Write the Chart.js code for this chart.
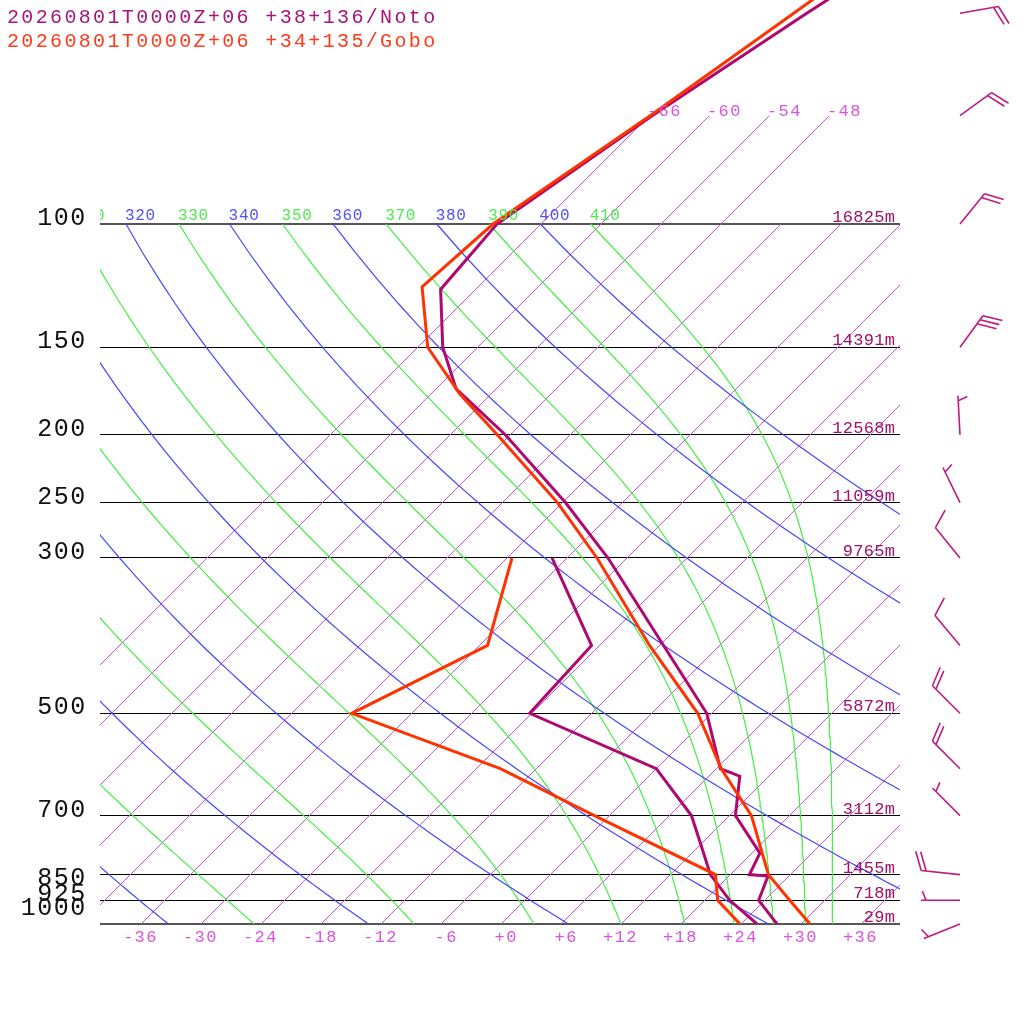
<!DOCTYPE html>
<html>
<head>
<meta charset="utf-8">
<script src="https://cdn.jsdelivr.net/npm/chart.js@4/dist/chart.umd.min.js"></script>
<style>html,body{margin:0;padding:0;background:#fff;}canvas{display:block;}</style>
</head>
<body>
<canvas id="c" width="1024" height="1024"></canvas>
<script>
// ---------------- data ----------------
const titleNoto = '20260801T0000Z+06 +38+136/Noto';
const titleGobo = '20260801T0000Z+06 +34+135/Gobo';

const notoTempP = [1000, 925, 854, 850, 792, 700, 615, 600, 500, 400, 300, 250, 200, 172, 150, 124, 100, 70, 50, 40];
const notoTemp  = [27.7, 23.5, 22.0, 20.0, 18.9, 12.7, 9.2, 6.5, -0.4, -11.5, -25.8, -35.6, -48.4, -57.9, -63.4, -69.4, -70.3, -65.6, -60.4, -56.7];
const notoDewP  = [1000, 925, 850, 775, 700, 600, 500, 400, 300];
const notoDew   = [25.7, 20.6, 16.1, 12.4, 8.3, 0.1, -18.1, -18.7, -31.4];

const goboTempP = [1000, 925, 850, 700, 600, 500, 400, 300, 250, 200, 175, 150, 123, 100, 70, 50, 40];
const goboTemp  = [31.0, 26.6, 21.9, 14.3, 6.6, -1.3, -12.9, -26.9, -36.4, -49.2, -57.0, -64.9, -71.5, -70.7, -65.8, -61.7, -59.1];
const goboDewP  = [1000, 925, 850, 700, 600, 500, 400, 300];
const goboDew   = [24.0, 19.4, 16.6, -1.4, -15.5, -35.9, -29.1, -35.4];

const pressureTicks = [100, 150, 200, 250, 300, 500, 700, 850, 925, 1000];
const heightLabels  = ['16825m', '14391m', '12568m', '11059m', '9765m', '5872m', '3112m', '1455m', '718m', '29m'];

const isoTemps = [-66, -60, -54, -48, -42, -36, -30, -24, -18, -12, -6, 0, 6, 12, 18, 24, 30, 36];
const isoTopP  = [70, 70, 70, 70, 100, 100, 100, 100, 100, 100, 100, 100, 100, 100, 100, 100, 100, 100];
const isoTopLabels = [-66, -60, -54, -48];
const tempTickLabels = [-36, -30, -24, -18, -12, -6, 0, 6, 12, 18, 24, 30, 36];

const dryThetas   = [240, 260, 280, 300, 320, 340, 360, 380, 400];
const moistThetas = [250, 270, 290, 310, 330, 350, 370, 390, 410];

const windP   = [50, 70, 100, 150, 200, 250, 300, 400, 500, 600, 700, 850, 925, 1000];
const windDir = [80, 54, 39, 36, 357, 334, 321, 320, 315, 315, 315, 276, 270, 248];
const windSpd = [20, 20, 20, 30, 5, 5, 10, 10, 20, 20, 5, 20, 5, 5];

// ---------------- styles ----------------
const COL_NOTO = '#b0086e', COL_GOBO = '#ff3300';
const COL_ISOTHERM = '#cc55e0', COL_DRY = '#4646ff', COL_MOIST = '#44ee44';
const FONT = '"Liberation Mono", "DejaVu Sans Mono", monospace';
const SKEW = 70;
const P_TOP = 47.86, P_BOT = 1000, P_ADIABAT_TOP = 100;

// ---------------- helpers ----------------
const sx = (T, p) => T + SKEW * Math.log10(1000 / p);
const pts = (P, T) => P.map((p, i) => ({ x: sx(T[i], p), y: p }));
function dryT(theta, p) { return theta * Math.pow(p / 1000, 0.2857) - 273.15; }
function thetaESat(Tc, p) {
  const es = 6.112 * Math.exp(17.67 * Tc / (Tc + 243.5));
  if (es > 0.5 * p) return 1e9;
  const r = 622 * es / (p - es);
  const TK = Tc + 273.15;
  return TK * Math.pow(1000 / p, 0.2854 * (1 - 0.00028 * r)) *
         Math.exp((3.376 / TK - 0.00254) * r * (1 + 0.00081 * r));
}
function moistT(thE, p) {
  let lo = -170, hi = 60;
  for (let k = 0; k < 60; k++) { const m = (lo + hi) / 2; if (thetaESat(m, p) > thE) hi = m; else lo = m; }
  return (lo + hi) / 2;
}
const sampleP = [];
for (let p = P_BOT; p >= P_ADIABAT_TOP; p -= 10) sampleP.push(p);

function lineDs(data, color, width, order) {
  return { data, showLine: true, borderColor: color, backgroundColor: color, borderWidth: width,
           pointRadius: 0, pointHoverRadius: 0, pointBorderWidth: 0, fill: false, tension: 0, order,
           borderJoinStyle: 'miter', borderCapStyle: 'butt' };
}

const datasets = [];
datasets.push(lineDs(pts(goboTempP, goboTemp), COL_GOBO, 3, 0));
datasets.push(lineDs(pts(goboDewP, goboDew), COL_GOBO, 3, 0));
datasets.push(lineDs(pts(notoTempP, notoTemp), COL_NOTO, 3, 1));
datasets.push(lineDs(pts(notoDewP, notoDew), COL_NOTO, 3, 1));
dryThetas.forEach(th => datasets.push(lineDs(
  sampleP.map(p => ({ x: sx(dryT(th, p), p), y: p })), COL_DRY, 1.2, 5)));
moistThetas.forEach(th => datasets.push(lineDs(
  sampleP.map(p => ({ x: sx(moistT(th, p), p), y: p })), COL_MOIST, 1.2, 5)));

function mono(ctx, text, x, base, adv) {
  for (let i = 0; i < text.length; i++) ctx.fillText(text[i], x + i * adv, base);
}
function monoRight(ctx, text, right, base, adv, fs) {
  const start = right - (text.length - 1) * adv - 0.55 * fs;
  mono(ctx, text, start, base, adv);
}
function drawBarb(ctx, x0, y0, dirDeg, spd) {
  const a = dirDeg * Math.PI / 180;
  const dx = Math.sin(a), dy = -Math.cos(a);
  const L = 39, sp = 5, full = 20, half = 10;
  const tx = x0 + dx * L, ty = y0 + dy * L;
  const fa = Math.atan2(dy, dx) + 68 * Math.PI / 180;
  const fx = Math.cos(fa), fy = Math.sin(fa);
  ctx.beginPath();
  ctx.moveTo(x0, y0); ctx.lineTo(tx, ty);
  const s = Math.round(spd / 5) * 5;
  const nFull = Math.floor(s / 10), nHalf = (s % 10) >= 5 ? 1 : 0;
  let pos = (nFull === 0 && nHalf) ? sp : 0;
  for (let i = 0; i < nFull; i++) {
    const px = tx - dx * pos, py = ty - dy * pos;
    ctx.moveTo(px, py); ctx.lineTo(px + fx * full, py + fy * full);
    pos += sp;
  }
  if (nHalf) {
    const px = tx - dx * pos, py = ty - dy * pos;
    ctx.moveTo(px, py); ctx.lineTo(px + fx * half, py + fy * half);
  }
  ctx.stroke();
}

const decor = {
  id: 'decor',
  beforeDraw(chart) {
    const c = chart.ctx; c.save(); c.fillStyle = '#fff'; c.fillRect(0, 0, chart.width, chart.height); c.restore();
  },
  beforeDatasetsDraw(chart) {
    // isotherms: crisp 1-px pixel lines, positioned through the chart scales
    const ctx = chart.ctx, area = chart.chartArea, xs = chart.scales.x, ys = chart.scales.y;
    ctx.save();
    ctx.fillStyle = COL_ISOTHERM;
    isoTemps.forEach((T, i) => {
      const x0 = xs.getPixelForValue(sx(T, P_BOT)), y0 = ys.getPixelForValue(P_BOT);
      const x1 = xs.getPixelForValue(sx(T, isoTopP[i])), y1 = ys.getPixelForValue(isoTopP[i]);
      const k = (x1 - x0) / (y1 - y0);
      for (let y = Math.round(y0) - 1; y >= Math.round(y1); y--) {
        const x = Math.round(x0 + (y + 0.5 - y0) * k);
        if (x >= area.left && x < area.right && y >= area.top) ctx.fillRect(x, y, 1, 1);
      }
    });
    ctx.restore();
  },
  afterDraw(chart) {
    const ctx = chart.ctx, area = chart.chartArea, xs = chart.scales.x, ys = chart.scales.y;
    ctx.save();
    ctx.textAlign = 'left'; ctx.textBaseline = 'alphabetic';

    // title
    ctx.font = '20px ' + FONT;
    ctx.fillStyle = '#a8147a'; mono(ctx, titleNoto, 7, 23.3, 14.35);
    ctx.fillStyle = '#ff3a1a'; mono(ctx, titleGobo, 7, 46.7, 14.35);

    // pressure labels
    const shift = { 850: 9.5, 1000: -10 };
    ctx.font = '25px ' + FONT; ctx.fillStyle = '#111';
    pressureTicks.forEach(p => {
      const y = ys.getPixelForValue(p) + 1 + (shift[p] || 0);
      monoRight(ctx, String(p), 84, y, 16.5, 25);
    });

    // height labels
    ctx.font = '17px ' + FONT; ctx.fillStyle = '#a0106c';
    pressureTicks.forEach((p, i) => {
      monoRight(ctx, heightLabels[i], 894, ys.getPixelForValue(p) - 2, 10.5, 17);
    });

    // bottom temperature labels
    ctx.font = '17px ' + FONT; ctx.fillStyle = '#d855e0';
    const yb = ys.getPixelForValue(P_BOT);
    tempTickLabels.forEach(T => {
      const txt = (T >= 0 ? '+' : '') + T;
      monoRight(ctx, txt, xs.getPixelForValue(sx(T, P_BOT)) + 15.5, yb + 18, 11.6, 17);
    });

    // isotherm top labels
    isoTopLabels.forEach(T => {
      const i = isoTemps.indexOf(T), pt = isoTopP[i];
      const x = xs.getPixelForValue(sx(T, pt)), y = ys.getPixelForValue(pt);
      mono(ctx, String(T), x - 1.5, y + 0.5, 11.6);
    });

    // adiabat labels at 100 hPa (clipped to plot)
    ctx.save();
    ctx.beginPath(); ctx.rect(area.left, 0, area.right - area.left, chart.height); ctx.clip();
    ctx.font = '16px ' + FONT;
    const y100 = ys.getPixelForValue(P_ADIABAT_TOP);
    dryThetas.forEach(th => {
      ctx.fillStyle = '#5050ff';
      mono(ctx, String(th), xs.getPixelForValue(sx(dryT(th, P_ADIABAT_TOP), P_ADIABAT_TOP)) - 1, y100 - 4.5, 10.3);
    });
    moistThetas.forEach(th => {
      ctx.fillStyle = '#50e850';
      mono(ctx, String(th), xs.getPixelForValue(sx(moistT(th, P_ADIABAT_TOP), P_ADIABAT_TOP)) - 1, y100 - 4.5, 10.3);
    });
    ctx.restore();

    // wind barbs
    ctx.strokeStyle = '#c01a80'; ctx.lineWidth = 1.6; ctx.lineCap = 'butt';
    windP.forEach((p, i) => drawBarb(ctx, 960, ys.getPixelForValue(p), windDir[i], windSpd[i]));
    ctx.restore();
  }
};

new Chart(document.getElementById('c'), {
  type: 'scatter',
  data: { datasets },
  options: {
    responsive: false, animation: false, devicePixelRatio: 1, events: [],
    layout: { padding: { left: 100, right: 124, top: 0, bottom: 100 } },
    plugins: { legend: { display: false }, tooltip: { enabled: false } },
    scales: {
      x: { type: 'linear', min: -40, max: 40, display: false },
      y: {
        type: 'logarithmic', reverse: true, min: P_TOP, max: P_BOT,
        afterBuildTicks: s => { s.ticks = pressureTicks.map(v => ({ value: v })); },
        ticks: { display: false },
        grid: {
          drawTicks: false,
          color: c => (c.tick && (c.tick.value === 1000 || c.tick.value === 100)) ? '#555' : '#000',
          lineWidth: c => (c.tick && (c.tick.value === 1000 || c.tick.value === 100)) ? 2 : 1
        },
        border: { display: false }
      }
    }
  },
  plugins: [decor]
});
</script>
</body>
</html>
